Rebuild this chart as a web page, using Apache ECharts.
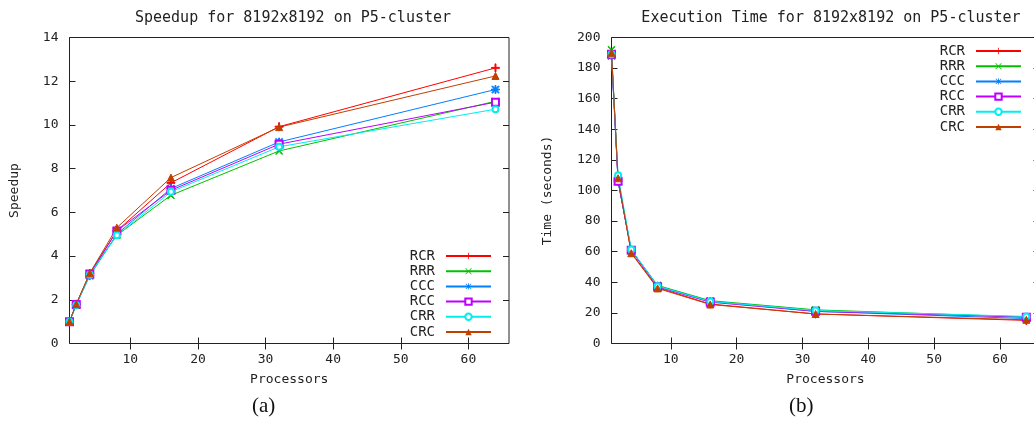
<!DOCTYPE html>
<html>
<head>
<meta charset="utf-8">
<script src="https://cdn.jsdelivr.net/npm/echarts@6/dist/echarts.min.js"></script>
<style>html,body{margin:0;padding:0;background:#fff}#c{width:1034px;height:430px}</style>
</head>
<body>
<div id="c"></div>
<script>
var seriesNames = ['RCR', 'RRR', 'CCC', 'RCC', 'CRR', 'CRC'];
var processors = [1, 2, 4, 8, 16, 32, 64];
var xTicks = [10, 20, 30, 40, 50, 60];

// Speedup (chart a)
var speedupRCR = [1, 1.8, 3.2, 5.15, 7.35, 9.92, 12.61];
var speedupRRR = [1, 1.8, 3.2, 4.95, 6.78, 8.81, 11.08];
var speedupCCC = [1, 1.78, 3.1, 5.0, 7.09, 9.22, 11.62];
var speedupRCC = [1, 1.78, 3.18, 5.15, 7.01, 9.12, 11.04];
var speedupCRR = [1, 1.75, 3.15, 4.95, 6.94, 9.0, 10.72];
var speedupCRC = [1, 1.8, 3.22, 5.3, 7.59, 9.9, 12.24];

// Execution time in seconds (chart b)
var timeRCR = [190, 107, 59.5, 36.5, 25.8, 19.3, 15.1];
var timeRRR = [192, 106, 61, 38, 28, 22, 17.3];
var timeCCC = [188, 106, 61, 37.5, 27.5, 21, 16.3];
var timeRCC = [189, 106, 61, 37, 27, 21, 17.2];
var timeCRR = [189, 110, 61.5, 37.5, 27.5, 21.5, 17.7];
var timeCRC = [190, 108, 59, 36, 25.5, 19.3, 15.5];

var speedups = [speedupRCR, speedupRRR, speedupCCC, speedupRCC, speedupCRR, speedupCRC];
var times = [timeRCR, timeRRR, timeCCC, timeRCC, timeCRR, timeCRC];

var colors = ['#ff0000', '#00c000', '#0080ff', '#c000ff', '#00eeee', '#c04000'];
var symbols = [
  'path://M4.4 0H5.6V4.4H10V5.6H5.6V10H4.4V5.6H0V4.4H4.4Z',
  'path://M0.8 0L5 4.2L9.2 0L10 0.8L5.8 5L10 9.2L9.2 10L5 5.8L0.8 10L0 9.2L4.2 5L0 0.8Z',
  'path://M4.4 0H5.6V4.4H10V5.6H5.6V10H4.4V5.6H0V4.4H4.4ZM1.2 0.4L5 4.2L8.8 0.4L9.6 1.2L5.8 5L9.6 8.8L8.8 9.6L5 5.8L1.2 9.6L0.4 8.8L4.2 5L0.4 1.2Z',
  'emptyRect',
  'emptyCircle',
  'triangle'
];
var symbolSizes = [8, 7, 8, 7, 6, 7];

var monoFont = 'DejaVu Sans Mono';
var txtColor = '#222';

function pairs(ys) {
  return processors.map(function (p, i) { return [p, ys[i]]; });
}

var series = [];
seriesNames.forEach(function (name, i) {
  series.push({
    name: name, type: 'line', xAxisIndex: 0, yAxisIndex: 0,
    data: pairs(speedups[i]), symbol: symbols[i], symbolSize: symbolSizes[i],
    lineStyle: {width: 1, color: colors[i]}, itemStyle: {color: colors[i], borderColor: colors[i]},
    emphasis: {disabled: true}, animation: false
  });
});
seriesNames.forEach(function (name, i) {
  series.push({
    name: name, type: 'line', xAxisIndex: 2, yAxisIndex: 2,
    data: pairs(times[i]), symbol: symbols[i], symbolSize: symbolSizes[i],
    lineStyle: {width: 1, color: colors[i]}, itemStyle: {color: colors[i], borderColor: colors[i]},
    emphasis: {disabled: true}, animation: false
  });
});

function xAx(gridIndex, pos, withLabels) {
  return {
    type: 'value', gridIndex: gridIndex, position: pos, min: 1, max: 66,
    axisLine: {show: false},
    splitLine: {show: false},
    axisTick: {show: true, inside: true, length: 6, customValues: xTicks, lineStyle: {color: '#222', width: 1}},
    axisLabel: {show: withLabels, customValues: xTicks, fontFamily: monoFont, fontSize: 13, color: txtColor, margin: 10},
    name: withLabels ? 'Processors' : '', nameLocation: 'middle', nameGap: 30,
    nameTextStyle: {fontFamily: monoFont, fontSize: 13, color: txtColor}
  };
}
function yAx(gridIndex, pos, max, interval, withLabels, name, gap) {
  return {
    type: 'value', gridIndex: gridIndex, position: pos, min: 0, max: max, interval: interval,
    axisLine: {show: false},
    splitLine: {show: false},
    axisTick: {show: true, inside: true, length: 6, lineStyle: {color: '#222', width: 1}},
    axisLabel: {show: withLabels, fontFamily: monoFont, fontSize: 13, color: txtColor, margin: 11},
    name: withLabels ? name : '', nameLocation: 'middle', nameGap: gap, nameRotate: 90,
    nameTextStyle: {fontFamily: monoFont, fontSize: 13, color: txtColor}
  };
}

var legendCommon = {
  orient: 'vertical', align: 'right', itemWidth: 45, itemHeight: 8, itemGap: 1.2,
  padding: 0,
  selectedMode: false,
  textStyle: {fontFamily: monoFont, fontSize: 14, color: txtColor, padding: [0, 6, 0, 0]},
  data: seriesNames
};

var option = {
  backgroundColor: '#fff',
  animation: false,
  title: [
    {text: 'Speedup for 8192x8192 on P5-cluster', left: 288, top: 6, textAlign: 'center',
     textStyle: {fontFamily: monoFont, fontSize: 15, fontWeight: 'normal', color: txtColor}},
    {text: 'Execution Time for 8192x8192 on P5-cluster', left: 826, top: 6, textAlign: 'center',
     textStyle: {fontFamily: monoFont, fontSize: 15, fontWeight: 'normal', color: txtColor}}
  ],
  grid: [
    {left: 69.5, top: 37.5, width: 439.5, height: 306, show: true, borderColor: '#222', borderWidth: 1,
     outerBoundsMode: 'none', containLabel: false},
    {left: 611.5, top: 37.5, width: 428, height: 306, show: true, borderColor: '#222', borderWidth: 1,
     outerBoundsMode: 'none', containLabel: false}
  ],
  xAxis: [xAx(0, 'bottom', true), xAx(0, 'top', false), xAx(1, 'bottom', true), xAx(1, 'top', false)],
  yAxis: [
    yAx(0, 'left', 14, 2, true, 'Speedup', 48),
    yAx(0, 'right', 14, 2, false, '', 0),
    yAx(1, 'left', 200, 20, true, 'Time (seconds)', 57),
    yAx(1, 'right', 200, 20, false, '', 0)
  ],
  legend: [
    Object.assign({right: 542, top: 249}, legendCommon),
    Object.assign({right: 12, top: 44}, legendCommon)
  ],
  graphic: [
    {type: 'text', left: 252, top: 396, style: {text: '(a)', font: '21px "Liberation Serif"', fill: '#111'}},
    {type: 'text', left: 789, top: 396, style: {text: '(b)', font: '21px "Liberation Serif"', fill: '#111'}}
  ],
  series: series
};

var chart = echarts.init(document.getElementById('c'), null, {renderer: 'canvas'});
chart.setOption(option);
</script>
</body>
</html>
